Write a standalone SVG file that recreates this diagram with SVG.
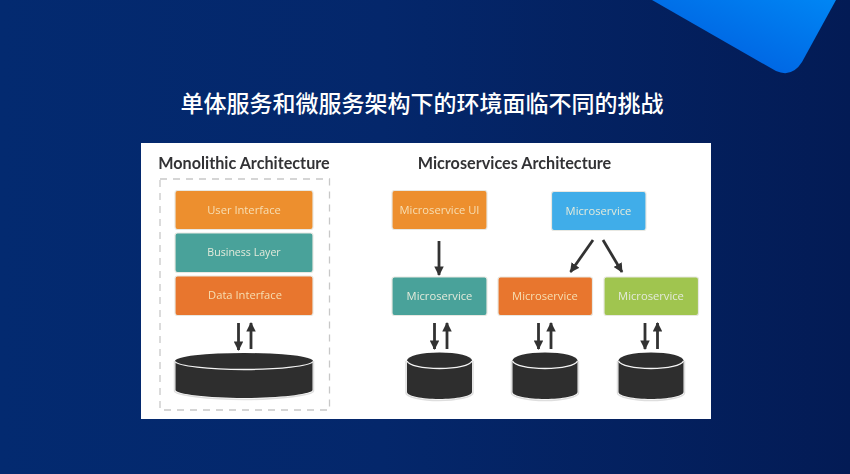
<svg xmlns="http://www.w3.org/2000/svg" width="850" height="474" viewBox="0 0 850 474">
<defs>
<linearGradient id="bg" x1="0" y1="0" x2="1" y2="0"><stop offset="0" stop-color="#032a70"/><stop offset="0.45" stop-color="#04276b"/><stop offset="1" stop-color="#031b55"/></linearGradient>
<linearGradient id="tri" x1="0" y1="1" x2="1" y2="0"><stop offset="0" stop-color="#0058dc"/><stop offset="1" stop-color="#0086f4"/></linearGradient>
<marker id="ah" viewBox="0 0 10 10" refX="9" refY="5" markerWidth="3.4" markerHeight="3.4" orient="auto"><path d="M0 0L10 5L0 10Z" fill="#333"/></marker>
<filter id="soft" x="-5%" y="-5%" width="110%" height="110%"><feGaussianBlur stdDeviation="0.4"/></filter>
</defs>
<style>
.t{font-family:"Open Sans","Noto Sans",sans-serif;fill:#e4eadb;font-size:11.2px;text-anchor:middle}
.w{fill:#f6dfb4}
.h{font-family:Lato,"Open Sans",sans-serif;fill:#333335;font-size:16.200px;font-weight:700;text-anchor:middle}
.b{stroke:#e8e8e2;stroke-width:1.2}
.a{stroke:#333;stroke-width:2.800;fill:none;marker-end:url(#ah)}
.c{fill:#2d2d2d}
.e{fill:#2d2d2d}
.r{fill:none;stroke:#f4f4f4;stroke-width:1.300}
.o{fill:none;stroke:#dedede;stroke-width:1.500}
</style>
<rect width="850" height="474" fill="url(#bg)"/>
<path d="M652 0L776 71Q792 78 802 62L836 0Z" fill="url(#tri)"/>
<text x="422" y="112" font-family="'Noto Sans CJK SC',sans-serif" font-size="23" font-weight="500" fill="#ffffff" text-anchor="middle">单体服务和微服务架构下的环境面临不同的挑战</text>
<rect x="141" y="143" width="570" height="276" fill="#ffffff"/>
<g filter="url(#soft)">
<text class="h" x="244" y="168.500">Monolithic Architecture</text>
<text class="h" x="514.500" y="168.500">Microservices Architecture</text>
<rect id="boundary" x="160" y="179" width="169.500" height="231" fill="none" stroke="#c8c8c8" stroke-width="1.300" stroke-dasharray="7 6"/>
<g id="user-interface"><rect class="b" x="175" y="190.500" width="138" height="39" rx="2.500" fill="#ed8f2f"/><text class="t w" x="244" y="213.500">User Interface</text></g>
<g id="business-layer"><rect class="b" x="175" y="233" width="138" height="39.500" rx="2.500" fill="#48a29a"/><text class="t" x="244" y="256" style="font-size:10.600px">Business Layer</text></g>
<g id="data-interface"><rect class="b" x="175" y="276" width="138" height="39.500" rx="2.500" fill="#e8762d"/><text class="t w" x="245" y="299">Data Interface</text></g>
<g id="micro-ui"><rect class="b" x="392" y="190.500" width="95" height="39" rx="2.500" fill="#ed8f2f"/><text class="t w" x="439.500" y="213.500">Microservice UI</text></g>
<g id="micro-blue"><rect class="b" x="551.500" y="191.500" width="94.500" height="39" rx="2.500" fill="#3fade9"/><text class="t" x="598.500" y="214.500">Microservice</text></g>
<g id="micro-teal"><rect class="b" x="392" y="277" width="95" height="38.500" rx="2.500" fill="#48a29a"/><text class="t" x="439.500" y="299.500">Microservice</text></g>
<g id="micro-orange"><rect class="b" x="498" y="277" width="94.500" height="38.500" rx="2.500" fill="#e8762d"/><text class="t w" x="545" y="299.500">Microservice</text></g>
<g id="micro-green"><rect class="b" x="604" y="277" width="94.500" height="38.500" rx="2.500" fill="#a0c550"/><text class="t" x="651" y="299.500">Microservice</text></g>
<g id="db-mono"><path class="o" d="M174.500 361V391C174.500 395 208 399.500 244 399.500S313.500 395 313.500 391V361"/><path class="c" d="M175.500 361V390C175.500 394 208 398 244 398S312.500 394 312.500 390V361Z"/><ellipse class="e" cx="244" cy="361" rx="69" ry="8"/><path class="r" d="M175 361.500C178 366 208 369.500 244 369.500S310 366 313 361.500"/></g>
<g id="db-1"><path class="o" d="M406 361V393C406 397 422 400.500 439 400.500S473 397 473 393V361"/><path class="c" d="M407 361V392C407 396 422 399 439 399S472 396 472 392V361Z"/><ellipse class="e" cx="439.500" cy="360.500" rx="32.500" ry="8"/><path class="r" d="M407 361C409 365.500 422 368.500 439.500 368.500S470 365.500 472 361"/></g>
<g id="db-2"><path class="o" d="M511.500 361V393C511.500 397 528 400.500 545 400.500S578.500 397 578.500 393V361"/><path class="c" d="M512.500 361V392C512.500 396 528 399 545 399S577.500 396 577.500 392V361Z"/><ellipse class="e" cx="545" cy="360.500" rx="32.500" ry="8"/><path class="r" d="M512.500 361C514.500 365.500 528 368.500 545 368.500S575.500 365.500 577.500 361"/></g>
<g id="db-3"><path class="o" d="M617.500 361V393C617.500 397 634 400.500 651 400.500S684.500 397 684.500 393V361"/><path class="c" d="M618.500 361V392C618.500 396 634 399 651 399S683.500 396 683.500 392V361Z"/><ellipse class="e" cx="651" cy="360.500" rx="32.500" ry="8"/><path class="r" d="M618.500 361C620.500 365.500 634 368.500 651 368.500S681.500 365.500 683.500 361"/></g>
<g id="connectors">
<path class="a" d="M238.500 323V350"/><path class="a" d="M251 349V323"/>
<path class="a" d="M439 241V275"/>
<path class="a" d="M593 240L570.500 272"/><path class="a" d="M603 240L622 272"/>
<path class="a" d="M434.500 323V349"/><path class="a" d="M447 349V323"/>
<path class="a" d="M538.500 323V349"/><path class="a" d="M551 349V323"/>
<path class="a" d="M645 323V349"/><path class="a" d="M657.500 349V323"/>
</g>
</g>
</svg>
